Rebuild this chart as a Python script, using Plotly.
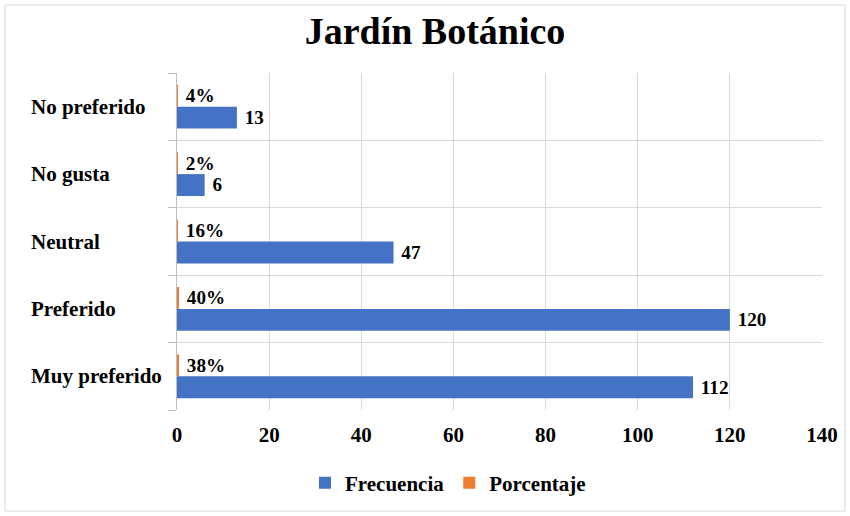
import plotly.graph_objects as go

categories = ["Muy preferido", "Preferido", "Neutral", "No gusta", "No preferido"]
frecuencia = [112, 120, 47, 6, 13]
porcentaje = [0.38, 0.40, 0.16, 0.02, 0.04]
x_ticks = [0, 20, 40, 60, 80, 100, 120, 140]

positions = list(range(len(categories)))
FONT = "Liberation Serif"
W, H = 850, 516
ML, MR, MT, MB = 177, 28, 73, 106
PW, PH = W - ML - MR, H - MT - MB

fig = go.Figure()
fig.add_trace(go.Bar(
    name="<b>Frecuencia</b>", y=positions, x=frecuencia, orientation="h",
    marker=dict(color="#4472C4", line=dict(width=0)),
    texttemplate="&nbsp;<b>%{x}</b>", textposition="outside",
    textfont=dict(family=FONT, size=21, color="#000000"),
    cliponaxis=False,
))
fig.add_trace(go.Bar(
    name="<b>Porcentaje</b>", y=positions, x=porcentaje, orientation="h",
    marker=dict(color="#ED7D31", line=dict(width=0)),
    texttemplate="&nbsp;<b>%{x:.0%}</b>", textposition="outside",
    textfont=dict(family=FONT, size=21, color="#000000"),
    cliponaxis=False,
))

fig.update_layout(
    width=W, height=H,
    paper_bgcolor="white", plot_bgcolor="white",
    margin=dict(l=ML, r=MR, t=MT, b=MB, autoexpand=False),
    barmode="group", bargap=0.35, bargroupgap=0.0,
    title=dict(text="<b>Jardín Botánico</b>", x=435 / W, xanchor="center",
               y=1 - 31 / H, yanchor="middle",
               font=dict(family=FONT, size=38, color="#000000")),
    font=dict(family=FONT, color="#000000"),
    legend=dict(orientation="h", x=(448 - ML) / PW, xanchor="center",
                y=-(483 - (H - MB)) / PH, yanchor="middle",
                font=dict(family=FONT, size=21, color="#000000"),
                traceorder="normal", itemwidth=30),
    showlegend=True,
    xaxis=dict(range=[0, 140], tickvals=x_ticks,
               ticktext=[f"<b>{v}</b>" for v in x_ticks],
               showgrid=True, gridcolor="#D9D9D9", gridwidth=1,
               zeroline=False, showline=False, ticks="", automargin=False,
               tickfont=dict(family=FONT, size=21, color="#000000"),
               ticklabelstandoff=10),
    yaxis=dict(range=[-0.5, 4.5], tickvals=positions, showticklabels=False,
               showgrid=False, zeroline=False, automargin=False,
               showline=True, linecolor="#BFBFBF", linewidth=1, ticks="",
               minor=dict(tick0=-0.5, dtick=1, showgrid=True,
                          gridcolor="#D9D9D9", gridwidth=1,
                          ticks="outside", ticklen=8, tickcolor="#BFBFBF")),
)

for pos, cat in zip(positions, categories):
    fig.add_annotation(text=f"<b>{cat}</b>", xref="paper", yref="y",
                       x=(29 - ML) / PW, y=pos, xanchor="left", yanchor="middle",
                       showarrow=False,
                       font=dict(family=FONT, size=21, color="#000000"))

fig.add_shape(type="rect", xref="paper", yref="paper",
              x0=(5 - ML) / PW, x1=(845 - ML) / PW,
              y0=-(511 - (H - MB)) / PH, y1=1 + (MT - 5) / PH,
              line=dict(color="#D9D9D9", width=1), fillcolor="rgba(0,0,0,0)",
              layer="below")

fig.write_html("out.html", config={"displayModeBar": False},
               post_script="document.body.style.margin='0';document.body.style.padding='0';")
